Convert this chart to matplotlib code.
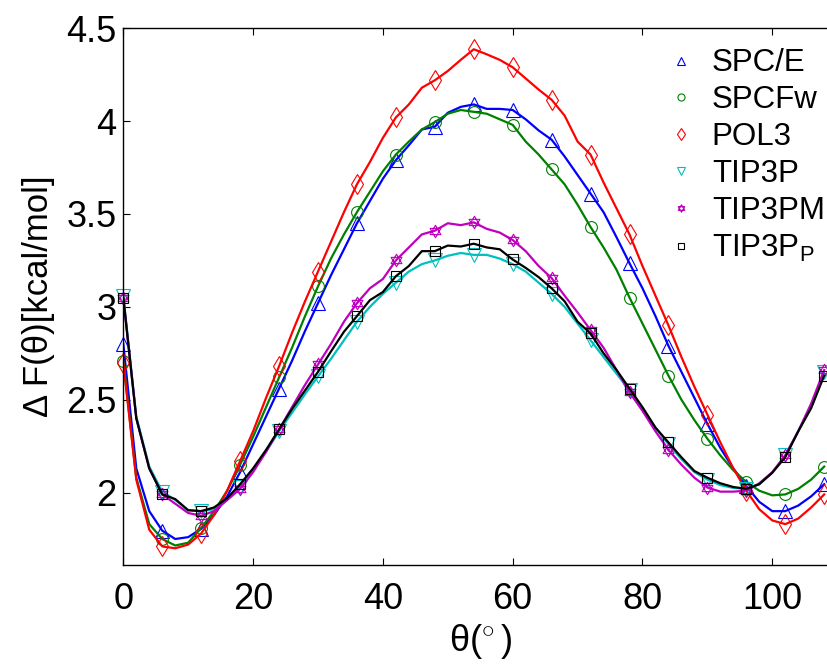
import numpy as np
import matplotlib
matplotlib.use('Agg')
import matplotlib.pyplot as plt
from matplotlib.path import Path
from matplotlib.ticker import FuncFormatter

plt.rcParams['font.family'] = ['Liberation Sans', 'DejaVu Sans']
plt.rcParams['mathtext.fontset'] = 'custom'
plt.rcParams['mathtext.rm'] = 'Liberation Sans'
plt.rcParams['mathtext.it'] = 'Liberation Sans'

# angle grid (deg), markers every 6 deg
theta = np.arange(0, 110, 2)

spce = [2.80, 2.13, 1.90, 1.795, 1.75, 1.76, 1.805, 1.88, 1.98, 2.11,
        2.26, 2.41, 2.56, 2.71, 2.87, 3.02, 3.17, 3.31, 3.45, 3.57,
        3.69, 3.79, 3.87, 3.955, 3.97, 4.045, 4.077, 4.09, 4.066, 4.066,
        4.06, 4.01, 3.95, 3.90, 3.81, 3.71, 3.61, 3.51, 3.375, 3.235,
        3.10, 2.95, 2.79, 2.65, 2.51, 2.37, 2.24, 2.13, 2.035, 1.95,
        1.90, 1.90, 1.93, 1.98, 2.045]
spcfw = [2.71, 2.08, 1.83, 1.75, 1.715, 1.73, 1.81, 1.90, 2.01, 2.15,
         2.30, 2.46, 2.62, 2.78, 2.95, 3.11, 3.26, 3.39, 3.51, 3.62,
         3.73, 3.82, 3.89, 3.955, 3.995, 4.04, 4.06, 4.05, 4.04, 4.01,
         3.98, 3.89, 3.82, 3.74, 3.66, 3.55, 3.43, 3.32, 3.20, 3.05,
         2.91, 2.77, 2.63, 2.50, 2.39, 2.29, 2.20, 2.12, 2.057, 2.01,
         1.985, 1.99, 2.02, 2.07, 2.14]
pol3 = [2.70, 2.07, 1.80, 1.71, 1.70, 1.72, 1.78, 1.88, 2.01, 2.17,
        2.33, 2.51, 2.68, 2.86, 3.03, 3.19, 3.35, 3.51, 3.66, 3.78,
        3.91, 4.02, 4.09, 4.18, 4.22, 4.27, 4.33, 4.387, 4.36, 4.33,
        4.29, 4.23, 4.17, 4.115, 4.03, 3.89, 3.82, 3.67, 3.53, 3.39,
        3.22, 3.06, 2.90, 2.73, 2.57, 2.42, 2.27, 2.13, 2.01, 1.91,
        1.85, 1.83, 1.86, 1.92, 1.99]
tip3p = [3.06, 2.41, 2.14, 2.005, 1.96, 1.905, 1.90, 1.91, 1.96, 2.03,
         2.12, 2.22, 2.33, 2.43, 2.53, 2.625, 2.72, 2.82, 2.92, 3.00,
         3.07, 3.13, 3.19, 3.23, 3.25, 3.275, 3.29, 3.28, 3.28, 3.26,
         3.23, 3.19, 3.13, 3.07, 3.00, 2.91, 2.82, 2.73, 2.64, 2.55,
         2.45, 2.35, 2.26, 2.18, 2.11, 2.07, 2.04, 2.025, 2.02, 2.045,
         2.107, 2.20, 2.33, 2.47, 2.65]
tip3pm = [3.05, 2.40, 2.13, 1.99, 1.94, 1.89, 1.875, 1.90, 1.96, 2.02,
          2.11, 2.22, 2.34, 2.46, 2.58, 2.69, 2.80, 2.92, 3.02, 3.10,
          3.15, 3.25, 3.32, 3.39, 3.41, 3.45, 3.44, 3.455, 3.42, 3.40,
          3.36, 3.30, 3.22, 3.155, 3.06, 2.97, 2.875, 2.78, 2.66, 2.54,
          2.44, 2.33, 2.23, 2.15, 2.08, 2.027, 2.005, 2.005, 2.01, 2.05,
          2.11, 2.20, 2.33, 2.48, 2.66]
tip3pp = [3.05, 2.40, 2.13, 1.99, 1.965, 1.905, 1.90, 1.92, 1.97, 2.045,
          2.13, 2.23, 2.34, 2.45, 2.55, 2.65, 2.76, 2.866, 2.95, 3.036,
          3.08, 3.165, 3.22, 3.30, 3.30, 3.33, 3.325, 3.34, 3.32, 3.31,
          3.255, 3.21, 3.16, 3.10, 3.03, 2.92, 2.857, 2.75, 2.66, 2.56,
          2.46, 2.35, 2.27, 2.19, 2.116, 2.08, 2.05, 2.03, 2.02, 2.045,
          2.107, 2.19, 2.33, 2.455, 2.63]

labels = ['SPC/E', 'SPCFw', 'POL3', 'TIP3P', 'TIP3PM', r'TIP3P$_{\mathrm{P}}$']

# star of david marker
star6 = Path([(0, 1), (-0.866, -0.5), (0.866, -0.5), (0, 1),
              (0, -1), (0.866, 0.5), (-0.866, 0.5), (0, -1)],
             [Path.MOVETO, Path.LINETO, Path.LINETO, Path.CLOSEPOLY] * 2)

series = [spce, spcfw, pol3, tip3p, tip3pm, tip3pp]
colors = ['#0000ff', '#008000', '#ff0000', '#00bfbf', '#bf00bf', '#000000']
markers = ['^', 'o', 'd', 'v', star6, 's']
msizes = [9.5, 8.5, 10.5, 9.5, 9, 7.5]

fig = plt.figure(figsize=(8.27, 6.64), dpi=100)
ax = fig.add_axes([0.1491, 0.1491, 0.8632, 0.8083])

for y, c, m, ms, lab in zip(series, colors, markers, msizes, labels):
    y = np.array(y)
    ax.plot(theta, y, '-', color=c, lw=1.6, label='_nolegend_')
    ax.plot(theta[::3], y[::3], ls='none', marker=m, ms=ms, mfc='none',
            mec=c, mew=0.8, label=lab, clip_on=False)

ax.set_xlim(0, 110)
ax.set_ylim(1.61, 4.5)
ax.set_xticks([0, 20, 40, 60, 80, 100])
ax.set_yticks([2, 2.5, 3, 3.5, 4, 4.5])
ax.yaxis.set_major_formatter(FuncFormatter(lambda v, p: '%g' % v))
ax.tick_params(direction='in', length=5, width=0.8, labelsize=26,
               top=True, right=True)
ax.tick_params(axis='x', pad=12)
ax.tick_params(axis='y', pad=5)
for s in ax.spines.values():
    s.set_linewidth(1.0)

ax.set_xlabel(r'θ($^{\circ}\,$)', fontsize=26, labelpad=4)
ax.set_ylabel('Δ F(θ)[kcal/mol]', fontsize=25, labelpad=8)

ax.legend(loc='upper left', bbox_to_anchor=(0.804, 0.927),
          bbox_transform=fig.transFigure, frameon=False, fontsize=22.5,
          markerscale=0.6, handlelength=1.0, handletextpad=0.5,
          labelspacing=0.22, borderpad=0, borderaxespad=0)

fig.savefig('out.png', dpi=100)
